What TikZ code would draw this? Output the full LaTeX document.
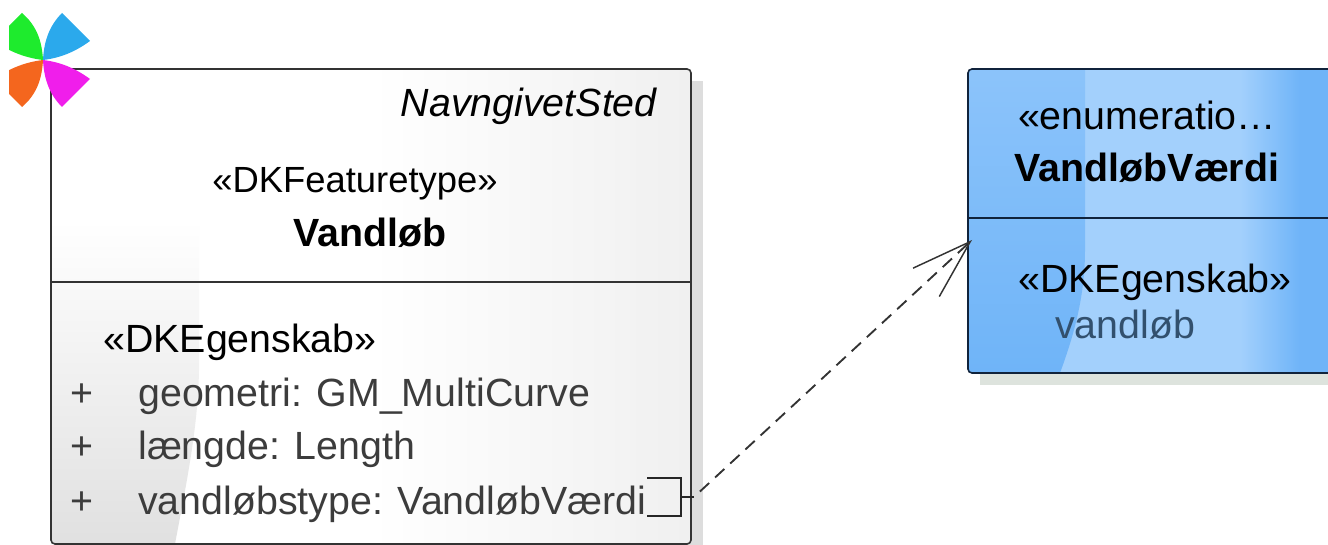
\documentclass[tikz,border=0pt]{standalone}
\usepackage{fontspec}
\setmainfont{Liberation Sans}
\usepackage{tikz}
\usetikzlibrary{
  arrows.meta,
  calc,
  positioning}
\definecolor{bluemid}{HTML}{6FB4F8}
\definecolor{bluelight}{HTML}{A3D0FC}
\definecolor{bluetext}{HTML}{32506E}
\definecolor{boxtext}{HTML}{3C3C3C}
\definecolor{bluedark}{HTML}{10233C}
\definecolor{petalblue}{HTML}{2BA9EC}
\definecolor{petalgreen}{HTML}{1EEB2D}
\definecolor{petalorange}{HTML}{F4661E}
\definecolor{petalmagenta}{HTML}{F01EEB}
\definecolor{shadowgrey}{HTML}{DDDDDD}
\definecolor{shadowblue}{HTML}{DDE3DD}
\pgfdeclarehorizontalshading{greybox}{100bp}{
  color(0bp)=(white); color(50bp)=(white); color(88bp)=(black!9); color(100bp)=(black!16)}
\tikzset{
  label/.style={font=\fontsize{29.5}{34}\selectfont,anchor=base,inner sep=0pt},
  attr/.style={label,anchor=base west,text=boxtext},
  edge/.style={line width=1.2pt,rounded corners=3}}
\begin{document}
\begin{tikzpicture}[x=0.75pt,y=-0.75pt]
        \useasboundingbox (0,0) rectangle (1328,545);
        % shadows
        \fill[shadowgrey] (63,81) rectangle (703,545);
        \fill[shadowblue] (980,81) rectangle (1328,385);
        % left box
        \fill[white] (51,69) rectangle (691,544);
        \begin{scope}
            \clip[rounded corners=3] (51,69) rectangle (691,544);
            \shade[shading=greybox] (51,69) rectangle (691,544);
            \shade[top color=white,bottom color=black!12] (51,220) -- (199,220) -- (199,370) .. controls (198,430) and (185,490) .. (175,544) -- (51,544) -- cycle;
        \end{scope}
        \draw[edge,black!80] (51,69) rectangle (691,544);
        \draw[line width=1.2pt,black!80] (51,282) -- (691,282);
        % right box
        \begin{scope}
            \clip[rounded corners=3] (968,69) rectangle (1340,373);
            \fill[bluelight] (968,69) rectangle (1340,373);
            \shade[top color=bluemid!45!bluelight,bottom color=bluemid] (968,69) -- (1085,69) -- (1085,250) .. controls (1085,300) and (1072,340) .. (1060,373) -- (968,373) -- cycle;
            \shade[left color=bluelight,right color=bluemid] (1240,69) rectangle (1300,373);
            \fill[bluemid] (1300,69) rectangle (1340,373);
        \end{scope}
        \draw[edge,bluedark] (968,69) rectangle (1340,373);
        \draw[line width=1.2pt,bluedark] (968,218) -- (1328,218);
        % flower
        \begin{scope}
            \clip (9,0) rectangle (100,120);
            \fill[petalblue] (43,60) .. controls (44,40) and (50,25) .. (62,13) -- (90,41) .. controls (75,52) and (60,58) .. cycle;
            \fill[petalgreen] (43,60) .. controls (42,40) and (36,25) .. (22,13) -- (-6,41) .. controls (10,52) and (26,58) .. cycle;
            \fill[petalorange] (43,60) .. controls (26,62) and (10,68) .. (-6,79) -- (22,107) .. controls (36,95) and (42,80) .. cycle;
            \fill[petalmagenta] (43,60) .. controls (44,80) and (50,95) .. (62,107) -- (90,79) .. controls (75,68) and (60,62) .. cycle;
        \end{scope}
        % texts left box
        \node[label,anchor=base east,font=\fontsize{29.5}{34}\selectfont\itshape] (parent) at (657,117) {NavngivetSted};
        \node[label,font=\fontsize{27.3}{32}\selectfont] (stereotype) at (355,193) {«DKFeaturetype»};
        \node[label,font=\fontsize{29.5}{34}\selectfont\bfseries] (vandlob) at (370,247) {Vandløb};
        \node[label,anchor=base west] (egenskab) at (103,353) {«DKEgenskab»};
        \node[attr] (plusa) at (70,406) {+};
        \node[attr] (plusb) at (70,459) {+};
        \node[attr] (plusc) at (70,514) {+};
        \node[attr] (geometri) at (138,406) {geometri: GM\_MultiCurve};
        \node[attr] (laengde) at (138,459) {længde: Length};
        \node[attr] (type) at (138,514) {vandløbstype: VandløbVærdi};
        % texts right box
        \node[label] (enum) at (1147,130) {«enumeratio…};
        \node[label,font=\fontsize{29.5}{34}\selectfont\bfseries] (vaerdi) at (1147,182) {VandløbVærdi};
        \node[label] (egenskabb) at (1155,293) {«DKEgenskab»};
        \node[label,anchor=base west,text=bluetext] (vandlobb) at (1055,339) {vandløb};
        % connector
        \coordinate (portl) at (647,478);
        \coordinate (portr) at (681,478);
        \coordinate (portrb) at (681,516);
        \coordinate (portlb) at (647,516);
        \coordinate (stub) at (681,497);
        \coordinate (stubend) at (694,497);
        \coordinate (tip) at (972,240);
        \draw[line width=1.1pt,black!85] (portl) -- (portr) -- (portrb) -- (portlb);
        \draw[line width=1.1pt,black!85] (stub) -- (stubend);
        \draw[line width=1.4pt,black!80,dash pattern=on 9.5pt off 6pt,shorten <=6pt,
              -{Straight Barb[length=45pt,width=29pt,line width=1.1pt]}] (stubend) -- (tip);
\end{tikzpicture}
\end{document}
